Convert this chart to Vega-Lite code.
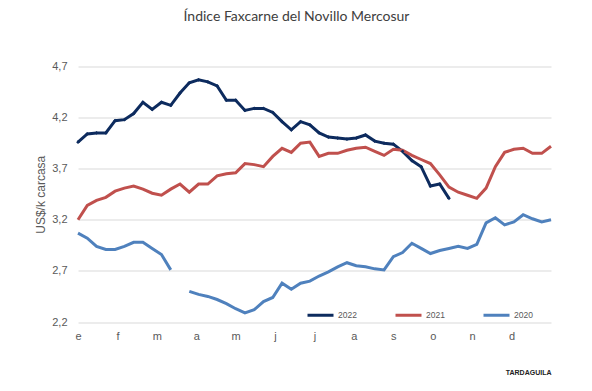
{
  "$schema": "https://vega.github.io/schema/vega-lite/v6.json",
  "width": 473,
  "height": 255.5,
  "autosize": {"type": "none"},
  "padding": {"left": 78, "top": 66.5, "right": 41, "bottom": 69},
  "background": "white",
  "title": {
    "text": "Índice Faxcarne del Novillo Mercosur",
    "font": "Lato",
    "fontSize": 14,
    "fontWeight": "normal",
    "color": "#404040",
    "anchor": "middle",
    "dx": -18,
    "offset": 37
  },
  "config": {
    "view": {"stroke": null},
    "axis": {"labelFont": "Liberation Sans", "labelColor": "#595959", "titleFont": "Liberation Sans", "titleColor": "#595959"}
  },
  "data": {
    "values": [
      {"semana": 0, "anio": "2022", "valor": 3.96},
      {"semana": 1, "anio": "2022", "valor": 4.04},
      {"semana": 2, "anio": "2022", "valor": 4.05},
      {"semana": 3, "anio": "2022", "valor": 4.05},
      {"semana": 4, "anio": "2022", "valor": 4.17},
      {"semana": 5, "anio": "2022", "valor": 4.18},
      {"semana": 6, "anio": "2022", "valor": 4.24},
      {"semana": 7, "anio": "2022", "valor": 4.35},
      {"semana": 8, "anio": "2022", "valor": 4.28},
      {"semana": 9, "anio": "2022", "valor": 4.35},
      {"semana": 10, "anio": "2022", "valor": 4.32},
      {"semana": 11, "anio": "2022", "valor": 4.44},
      {"semana": 12, "anio": "2022", "valor": 4.54},
      {"semana": 13, "anio": "2022", "valor": 4.57},
      {"semana": 14, "anio": "2022", "valor": 4.55},
      {"semana": 15, "anio": "2022", "valor": 4.51},
      {"semana": 16, "anio": "2022", "valor": 4.37},
      {"semana": 17, "anio": "2022", "valor": 4.37},
      {"semana": 18, "anio": "2022", "valor": 4.27},
      {"semana": 19, "anio": "2022", "valor": 4.29},
      {"semana": 20, "anio": "2022", "valor": 4.29},
      {"semana": 21, "anio": "2022", "valor": 4.25},
      {"semana": 22, "anio": "2022", "valor": 4.16},
      {"semana": 23, "anio": "2022", "valor": 4.08},
      {"semana": 24, "anio": "2022", "valor": 4.16},
      {"semana": 25, "anio": "2022", "valor": 4.13},
      {"semana": 26, "anio": "2022", "valor": 4.05},
      {"semana": 27, "anio": "2022", "valor": 4.01},
      {"semana": 28, "anio": "2022", "valor": 4.00},
      {"semana": 29, "anio": "2022", "valor": 3.99},
      {"semana": 30, "anio": "2022", "valor": 4.00},
      {"semana": 31, "anio": "2022", "valor": 4.03},
      {"semana": 32, "anio": "2022", "valor": 3.97},
      {"semana": 33, "anio": "2022", "valor": 3.95},
      {"semana": 34, "anio": "2022", "valor": 3.94},
      {"semana": 35, "anio": "2022", "valor": 3.87},
      {"semana": 36, "anio": "2022", "valor": 3.78},
      {"semana": 37, "anio": "2022", "valor": 3.72},
      {"semana": 38, "anio": "2022", "valor": 3.53},
      {"semana": 39, "anio": "2022", "valor": 3.55},
      {"semana": 40, "anio": "2022", "valor": 3.41},
      {"semana": 0, "anio": "2021", "valor": 3.20},
      {"semana": 1, "anio": "2021", "valor": 3.34},
      {"semana": 2, "anio": "2021", "valor": 3.39},
      {"semana": 3, "anio": "2021", "valor": 3.42},
      {"semana": 4, "anio": "2021", "valor": 3.48},
      {"semana": 5, "anio": "2021", "valor": 3.51},
      {"semana": 6, "anio": "2021", "valor": 3.53},
      {"semana": 7, "anio": "2021", "valor": 3.50},
      {"semana": 8, "anio": "2021", "valor": 3.46},
      {"semana": 9, "anio": "2021", "valor": 3.44},
      {"semana": 10, "anio": "2021", "valor": 3.50},
      {"semana": 11, "anio": "2021", "valor": 3.55},
      {"semana": 12, "anio": "2021", "valor": 3.47},
      {"semana": 13, "anio": "2021", "valor": 3.55},
      {"semana": 14, "anio": "2021", "valor": 3.55},
      {"semana": 15, "anio": "2021", "valor": 3.63},
      {"semana": 16, "anio": "2021", "valor": 3.65},
      {"semana": 17, "anio": "2021", "valor": 3.66},
      {"semana": 18, "anio": "2021", "valor": 3.75},
      {"semana": 19, "anio": "2021", "valor": 3.74},
      {"semana": 20, "anio": "2021", "valor": 3.72},
      {"semana": 21, "anio": "2021", "valor": 3.82},
      {"semana": 22, "anio": "2021", "valor": 3.90},
      {"semana": 23, "anio": "2021", "valor": 3.86},
      {"semana": 24, "anio": "2021", "valor": 3.95},
      {"semana": 25, "anio": "2021", "valor": 3.96},
      {"semana": 26, "anio": "2021", "valor": 3.82},
      {"semana": 27, "anio": "2021", "valor": 3.85},
      {"semana": 28, "anio": "2021", "valor": 3.85},
      {"semana": 29, "anio": "2021", "valor": 3.88},
      {"semana": 30, "anio": "2021", "valor": 3.90},
      {"semana": 31, "anio": "2021", "valor": 3.91},
      {"semana": 32, "anio": "2021", "valor": 3.87},
      {"semana": 33, "anio": "2021", "valor": 3.83},
      {"semana": 34, "anio": "2021", "valor": 3.89},
      {"semana": 35, "anio": "2021", "valor": 3.88},
      {"semana": 36, "anio": "2021", "valor": 3.83},
      {"semana": 37, "anio": "2021", "valor": 3.79},
      {"semana": 38, "anio": "2021", "valor": 3.75},
      {"semana": 39, "anio": "2021", "valor": 3.64},
      {"semana": 40, "anio": "2021", "valor": 3.52},
      {"semana": 41, "anio": "2021", "valor": 3.47},
      {"semana": 42, "anio": "2021", "valor": 3.44},
      {"semana": 43, "anio": "2021", "valor": 3.41},
      {"semana": 44, "anio": "2021", "valor": 3.51},
      {"semana": 45, "anio": "2021", "valor": 3.72},
      {"semana": 46, "anio": "2021", "valor": 3.86},
      {"semana": 47, "anio": "2021", "valor": 3.89},
      {"semana": 48, "anio": "2021", "valor": 3.90},
      {"semana": 49, "anio": "2021", "valor": 3.85},
      {"semana": 50, "anio": "2021", "valor": 3.85},
      {"semana": 51, "anio": "2021", "valor": 3.92},
      {"semana": 0, "anio": "2020", "valor": 3.07},
      {"semana": 1, "anio": "2020", "valor": 3.02},
      {"semana": 2, "anio": "2020", "valor": 2.94},
      {"semana": 3, "anio": "2020", "valor": 2.91},
      {"semana": 4, "anio": "2020", "valor": 2.91},
      {"semana": 5, "anio": "2020", "valor": 2.94},
      {"semana": 6, "anio": "2020", "valor": 2.98},
      {"semana": 7, "anio": "2020", "valor": 2.98},
      {"semana": 8, "anio": "2020", "valor": 2.92},
      {"semana": 9, "anio": "2020", "valor": 2.86},
      {"semana": 10, "anio": "2020", "valor": 2.71},
      {"semana": 11, "anio": "2020", "valor": null},
      {"semana": 12, "anio": "2020", "valor": 2.50},
      {"semana": 13, "anio": "2020", "valor": 2.47},
      {"semana": 14, "anio": "2020", "valor": 2.45},
      {"semana": 15, "anio": "2020", "valor": 2.42},
      {"semana": 16, "anio": "2020", "valor": 2.38},
      {"semana": 17, "anio": "2020", "valor": 2.33},
      {"semana": 18, "anio": "2020", "valor": 2.29},
      {"semana": 19, "anio": "2020", "valor": 2.32},
      {"semana": 20, "anio": "2020", "valor": 2.40},
      {"semana": 21, "anio": "2020", "valor": 2.44},
      {"semana": 22, "anio": "2020", "valor": 2.58},
      {"semana": 23, "anio": "2020", "valor": 2.52},
      {"semana": 24, "anio": "2020", "valor": 2.58},
      {"semana": 25, "anio": "2020", "valor": 2.60},
      {"semana": 26, "anio": "2020", "valor": 2.65},
      {"semana": 27, "anio": "2020", "valor": 2.69},
      {"semana": 28, "anio": "2020", "valor": 2.74},
      {"semana": 29, "anio": "2020", "valor": 2.78},
      {"semana": 30, "anio": "2020", "valor": 2.75},
      {"semana": 31, "anio": "2020", "valor": 2.74},
      {"semana": 32, "anio": "2020", "valor": 2.72},
      {"semana": 33, "anio": "2020", "valor": 2.71},
      {"semana": 34, "anio": "2020", "valor": 2.84},
      {"semana": 35, "anio": "2020", "valor": 2.88},
      {"semana": 36, "anio": "2020", "valor": 2.97},
      {"semana": 37, "anio": "2020", "valor": 2.92},
      {"semana": 38, "anio": "2020", "valor": 2.87},
      {"semana": 39, "anio": "2020", "valor": 2.90},
      {"semana": 40, "anio": "2020", "valor": 2.92},
      {"semana": 41, "anio": "2020", "valor": 2.94},
      {"semana": 42, "anio": "2020", "valor": 2.92},
      {"semana": 43, "anio": "2020", "valor": 2.96},
      {"semana": 44, "anio": "2020", "valor": 3.17},
      {"semana": 45, "anio": "2020", "valor": 3.22},
      {"semana": 46, "anio": "2020", "valor": 3.15},
      {"semana": 47, "anio": "2020", "valor": 3.18},
      {"semana": 48, "anio": "2020", "valor": 3.25},
      {"semana": 49, "anio": "2020", "valor": 3.21},
      {"semana": 50, "anio": "2020", "valor": 3.18},
      {"semana": 51, "anio": "2020", "valor": 3.20}
    ]
  },
  "layer": [
    {
      "mark": {"type": "line", "strokeWidth": 3, "invalid": "break-paths-show-domains"},
      "encoding": {
        "x": {
          "field": "semana",
          "type": "quantitative",
          "scale": {"domain": [0, 51], "nice": false, "zero": false},
          "axis": {
            "values": [0, 4.25, 8.5, 12.75, 17, 21.25, 25.5, 29.75, 34, 38.25, 42.5, 46.75],
            "labelExpr": "['e','f','m','a','m','j','j','a','s','o','n','d'][round(datum.value / 4.25)]",
            "grid": false,
            "ticks": false,
            "domain": false,
            "labelFontSize": 11,
            "labelPadding": 8,
            "labelFlush": false,
            "labelOverlap": false,
            "title": "TARDAGUILA",
            "titleFontSize": 7,
            "titleFontWeight": "bold",
            "titleColor": "#222222",
            "titleAnchor": "end",
            "titlePadding": 27
          }
        },
        "y": {
          "field": "valor",
          "type": "quantitative",
          "scale": {"domain": [2.2, 4.7], "nice": false, "zero": false},
          "axis": {
            "values": [2.2, 2.7, 3.2, 3.7, 4.2, 4.7],
            "labelExpr": "replace(format(datum.value, '.1f'), '.', ',')",
            "grid": true,
            "gridColor": "#d9d9d9",
            "gridWidth": 1,
            "ticks": false,
            "domain": false,
            "labelFontSize": 11,
            "labelPadding": 11,
            "title": "US$/k carcasa",
            "titleFontSize": 12,
            "titleFontWeight": "normal",
            "titlePadding": 4
          }
        },
        "color": {
          "field": "anio",
          "type": "nominal",
          "scale": {"domain": ["2022", "2021", "2020"], "range": ["#0d2b5e", "#c0504d", "#4f81bd"]},
          "legend": {
            "orient": "none",
            "legendX": 228,
            "legendY": 234,
            "direction": "horizontal",
            "title": null,
            "symbolType": "stroke",
            "symbolSize": 676,
            "symbolStrokeWidth": 3,
            "labelFont": "Liberation Sans",
            "labelFontSize": 8.5,
            "labelColor": "#595959",
            "labelOffset": 3,
            "columnPadding": 32
          }
        }
      }
    },
    {
      "transform": [{"filter": "datum.anio == '2022'"}],
      "mark": {"type": "point", "shape": "diamond", "filled": true, "size": 14, "opacity": 1},
      "encoding": {
        "x": {"field": "semana", "type": "quantitative"},
        "y": {"field": "valor", "type": "quantitative"},
        "color": {"value": "#0d2b5e"}
      }
    }
  ]
}
